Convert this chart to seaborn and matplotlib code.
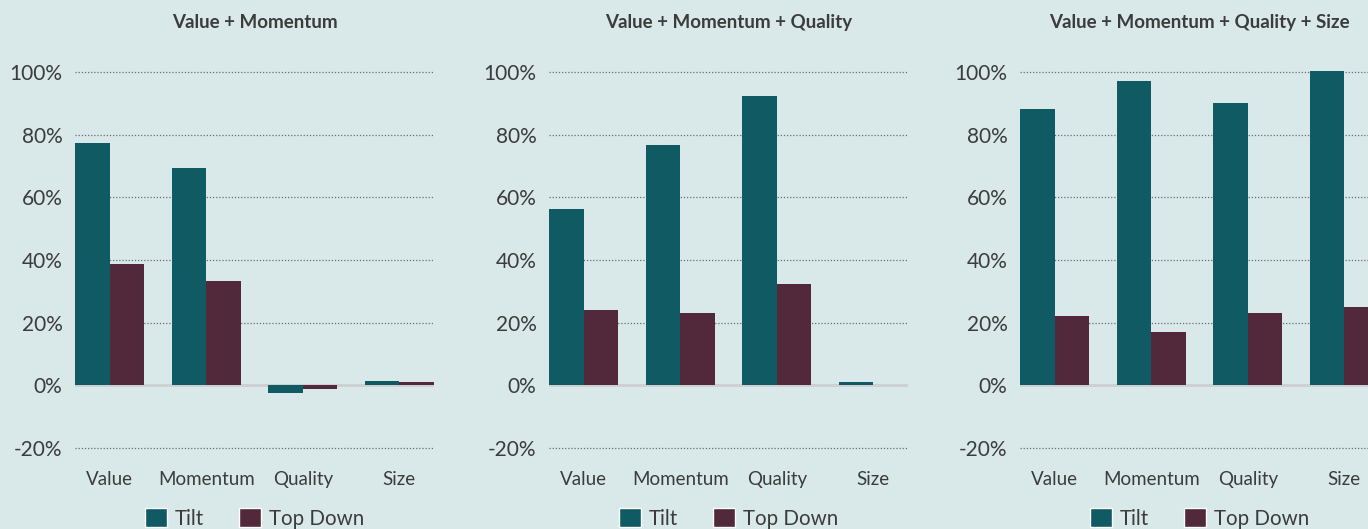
import matplotlib
matplotlib.use("Agg")
import matplotlib.pyplot as plt
import seaborn as sns
import pandas as pd
from matplotlib.patches import Patch

# data (fractions)
factors = ["Value", "Momentum", "Quality", "Size"]
titles = [
    "Value + Momentum",
    "Value + Momentum + Quality",
    "Value + Momentum + Quality + Size",
]
tilt = [
    [0.774, 0.694, -0.025, 0.014],
    [0.563, 0.767, 0.923, 0.009],
    [0.882, 0.972, 0.902, 1.004],
]
top_down = [
    [0.387, 0.333, -0.012, 0.011],
    [0.242, 0.232, 0.325, 0.0],
    [0.221, 0.170, 0.231, 0.250],
]
y_ticks = [-0.2, 0.0, 0.2, 0.4, 0.6, 0.8, 1.0]

bg = "#D9E8E8"
teal = "#105B63"
maroon = "#51293A"
text_col = "#3C3C3C"

sns.set_style("white", {"axes.facecolor": bg, "figure.facecolor": bg})
plt.rcParams["font.family"] = ["Lato", "DejaVu Sans"]

fig = plt.figure(figsize=(13.68, 5.29), dpi=100)

lefts = [75 / 1368, 549 / 1368, 1020 / 1368]
width = 359 / 1368
bottom = (529 - 454.2) / 529
height = 388.3 / 529

for i in range(3):
    ax = fig.add_axes([lefts[i], bottom, width, height])
    df = pd.DataFrame({
        "factor": factors * 2,
        "value": tilt[i] + top_down[i],
        "series": ["Tilt"] * 4 + ["Top Down"] * 4,
    })
    sns.barplot(data=df, x="factor", y="value", hue="series",
                palette=[teal, maroon], width=0.72, gap=0,
                saturation=1, ax=ax, legend=False, zorder=3,
                linewidth=0, edgecolor="none")

    ax.set_xlim(-0.36, 3.36)
    ax.set_ylim(-0.22, 1.02)
    ax.set_yticks(y_ticks)
    ax.set_yticklabels([f"{int(round(t * 100))}%" for t in y_ticks])
    ax.set_xlabel("")
    ax.set_ylabel("")
    sns.despine(ax=ax, left=True, bottom=True, top=True, right=True)

    ax.set_axisbelow(True)
    ax.yaxis.grid(True, linestyle=(0, (1, 1.5)), color="#6E6E6E", lw=0.9)
    ax.get_ygridlines()[1].set_visible(False)
    ax.axhline(0, color="#CDCFD1", lw=2, zorder=2)

    ax.tick_params(axis="y", length=0, pad=9, labelsize=15, labelcolor=text_col)
    ax.tick_params(axis="x", length=0, pad=12, labelsize=13.5, labelcolor=text_col)

    ax.text(0.5, 1.113, titles[i], transform=ax.transAxes, ha="center",
            va="center", fontsize=13.5, fontweight="bold", color=text_col)

    handles = [Patch(facecolor=teal, label="Tilt"),
               Patch(facecolor=maroon, label="Top Down")]
    ax.legend(handles=handles, loc="center", bbox_to_anchor=(0.5, -0.165),
              ncol=2, frameon=False, fontsize=14.8, handlelength=1.05,
              handleheight=1.05, handletextpad=0.4, columnspacing=1.7,
              labelcolor=text_col)

fig.savefig("out.png", dpi=100, facecolor=bg)
